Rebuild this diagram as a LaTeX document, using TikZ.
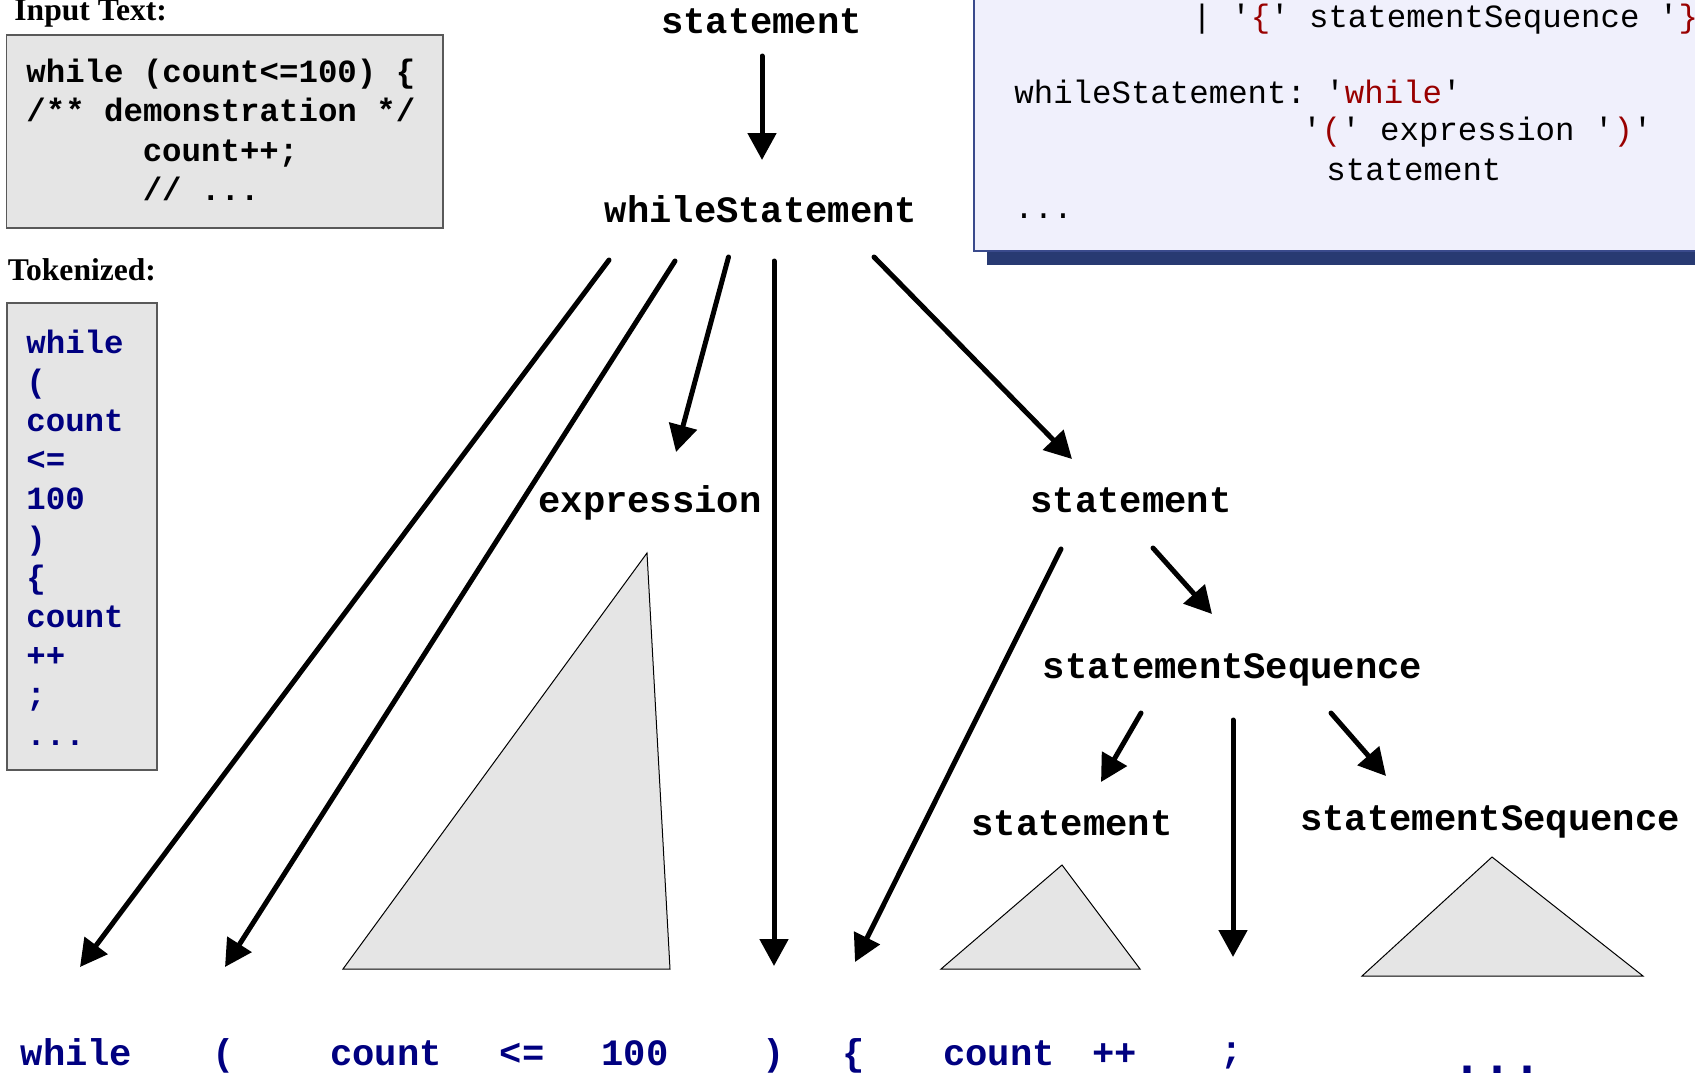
\documentclass[tikz,border=0pt]{standalone}
\usepackage{fontspec}
\setmainfont{Liberation Serif}
\setmonofont{Liberation Mono}
\usetikzlibrary{arrows.meta}
\definecolor{boxgray}{HTML}{E5E5E5}
\definecolor{tokblue}{HTML}{000080}
\definecolor{gramred}{HTML}{990000}
\definecolor{gramfill}{HTML}{F0F0FC}
\definecolor{gramedge}{HTML}{3A4A8C}
\definecolor{shadowblue}{HTML}{283A72}
\newcommand\codefnt{\ttfamily\bfseries\fontsize{16.2}{19}\selectfont}
\newcommand\lblfnt{\ttfamily\bfseries\fontsize{18.6}{22}\selectfont}
\newcommand\gramfnt{\ttfamily\fontsize{16.2}{19}\selectfont}
\newcommand\headfnt{\rmfamily\bfseries\fontsize{15.8}{19}\selectfont}
\newcommand\gr[1]{\textcolor{gramred}{#1}}
\tikzset{
  txt/.style={inner sep=0pt, anchor=base west},
  lbl/.style={inner sep=0pt, anchor=base, font=\lblfnt},
  tok/.style={inner sep=0pt, anchor=base, font=\lblfnt, text=tokblue},
  code/.style={txt, font=\codefnt},
  tokcode/.style={txt, font=\codefnt, text=tokblue},
  gram/.style={txt, font=\gramfnt},
  head/.style={txt, font=\headfnt},
  arr/.style={line width=2.5pt, line cap=round, -{Triangle[length=13.5pt,width=14pt]}},
  tri/.style={fill=boxgray, draw=black, line width=0.5pt, line join=miter},
  codebox/.style={fill=boxgray, draw=black!65, line width=0.75pt},
}
\begin{document}
\begin{tikzpicture}[x=0.5pt,y=-0.5pt]
\useasboundingbox (0,0) rectangle (1695,1072);
\clip (0,0) rectangle (1695,1072);

% ---------- left panels ----------
\node[head] (hin) at (14,20) {Input Text:};
\draw[codebox] (6.7,35) rectangle (443,228);
\node[code] (in1) at (26,82) {while (count<=100) \{};
\node[code] (in2) at (26,121.5) {/** demonstration */};
\node[code] (in3) at (142.4,161) {count++;};
\node[code] (in4) at (142.4,200.5) {// ...};

\node[head] (htok) at (7.5,280) {Tokenized:};
\draw[codebox] (7,303) rectangle (157,770);
\node[tokcode] (tk0) at (26,353.0) {while};
\node[tokcode] (tk1) at (26,392.2) {(};
\node[tokcode] (tk2) at (26,431.4) {count};
\node[tokcode] (tk3) at (26,470.6) {<=};
\node[tokcode] (tk4) at (26,509.8) {100};
\node[tokcode] (tk5) at (26,549.0) {)};
\node[tokcode] (tk6) at (26,588.2) {\{};
\node[tokcode] (tk7) at (26,627.4) {count};
\node[tokcode] (tk8) at (26,666.6) {++};
\node[tokcode] (tk9) at (26,705.8) {;};
\node[tokcode] (tk10) at (26,745.0) {...};

% ---------- grammar box ----------
\fill[shadowblue] (987,-20) rectangle (1720,265);
\draw[fill=gramfill, draw=gramedge, line width=0.75pt] (974,-20) rectangle (1720,251);
\node[gram] (g1) at (1192,27) {| '\gr{\{}' statementSequence '\gr{\}}'};
\node[gram] (g2) at (1014,103) {whileStatement: '\gr{while}'};
\node[gram] (g3) at (1302,140) {'\gr{(}' expression '\gr{)}'};
\node[gram] (g4) at (1326,180) {statement};
\node[gram] (g5) at (1014,218) {...};

% ---------- tree labels ----------
\node[lbl] (st0) at (761.5,33) {statement};
\node[lbl] (ws) at (761,222) {whileStatement};
\node[lbl] (expr) at (650,512) {expression};
\node[lbl] (st1) at (1131,512) {statement};
\node[lbl] (seq1) at (1232.5,678) {statementSequence};
\node[lbl] (st2) at (1072,835) {statement};
\node[lbl] (seq2) at (1490,830) {statementSequence};

% ---------- subtree triangles ----------
\draw[tri] (343,969) -- (647,553) -- (670,969) -- cycle;
\draw[tri] (941,969) -- (1062,865) -- (1140,969) -- cycle;
\draw[tri] (1362,976) -- (1492,857) -- (1643,976) -- cycle;

% ---------- bottom tokens ----------
\node[tok] (bWhile) at (76.5,1065) {while};
\node[tok] (bLp) at (224,1065) {(};
\node[tok] (bCount) at (386,1065) {count};
\node[tok] (bLe) at (522,1065) {<=};
\node[tok] (b100) at (635,1065) {100};
\node[tok] (bRp) at (774,1065) {)};
\node[tok] (bLb) at (854,1065) {\{};
\node[tok] (bCount2) at (999,1065) {count};
\node[tok] (bInc) at (1114.5,1065) {++};
\node[tok] (bSemi) at (1232,1062) {;};
\node[inner sep=0pt, anchor=base, text=tokblue, font=\ttfamily\bfseries\fontsize{25}{30}\selectfont] (bDots) at (1497,1073) {...};

% ---------- connector end points ----------
\coordinate (st0-out) at (762,56);   \coordinate (ws-in) at (762,160);
\coordinate (ws-o1) at (609,260);    \coordinate (bWhile-in) at (80,967);
\coordinate (ws-o2) at (675,261);    \coordinate (bLp-in) at (225,967);
\coordinate (ws-o3) at (728.5,257);  \coordinate (expr-in) at (676,452);
\coordinate (ws-o4) at (774,261);    \coordinate (bRp-in) at (774,966);
\coordinate (ws-o5) at (874,257);    \coordinate (st1-in) at (1072,459);
\coordinate (st1-o1) at (1061,549);  \coordinate (bLb-in) at (855,962);
\coordinate (st1-o2) at (1153,548);  \coordinate (seq1-in) at (1212,614);
\coordinate (seq1-o1) at (1141,713); \coordinate (st2-in) at (1101,782);
\coordinate (seq1-o2) at (1233,720); \coordinate (bSemi-in) at (1233,957);
\coordinate (seq1-o3) at (1331,713); \coordinate (seq2-in) at (1386,776);

% ---------- connectors ----------
\draw[arr] (st0-out) -- (ws-in);
\draw[arr] (ws-o1) -- (bWhile-in);
\draw[arr] (ws-o2) -- (bLp-in);
\draw[arr] (ws-o3) -- (expr-in);
\draw[arr] (ws-o4) -- (bRp-in);
\draw[arr] (ws-o5) -- (st1-in);
\draw[arr] (st1-o1) -- (bLb-in);
\draw[arr] (st1-o2) -- (seq1-in);
\draw[arr] (seq1-o1) -- (st2-in);
\draw[arr] (seq1-o2) -- (bSemi-in);
\draw[arr] (seq1-o3) -- (seq2-in);
\end{tikzpicture}
\end{document}
